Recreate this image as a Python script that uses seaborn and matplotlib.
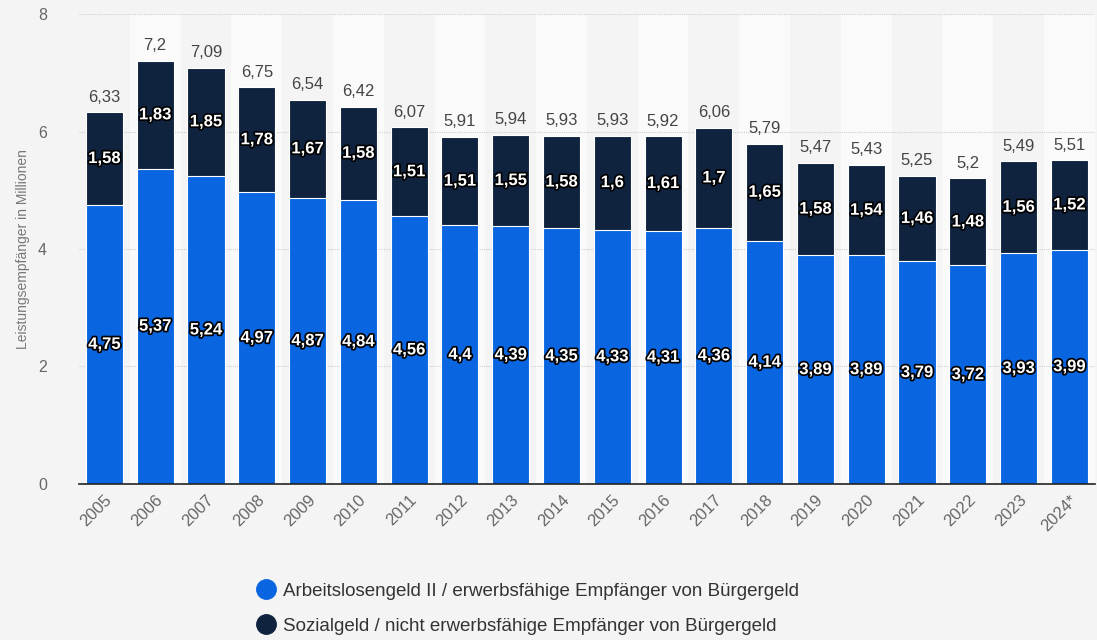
import matplotlib
matplotlib.use("Agg")
import matplotlib.pyplot as plt
import matplotlib.patheffects as pe
from matplotlib.lines import Line2D
import seaborn as sns
import pandas as pd

years = ["2005", "2006", "2007", "2008", "2009", "2010", "2011", "2012", "2013", "2014",
         "2015", "2016", "2017", "2018", "2019", "2020", "2021", "2022", "2023", "2024*"]
alg2 = [4.75, 5.37, 5.24, 4.97, 4.87, 4.84, 4.56, 4.4, 4.39, 4.35,
        4.33, 4.31, 4.36, 4.14, 3.89, 3.89, 3.79, 3.72, 3.93, 3.99]
sozial = [1.58, 1.83, 1.85, 1.78, 1.67, 1.58, 1.51, 1.51, 1.55, 1.58,
          1.6, 1.61, 1.7, 1.65, 1.58, 1.54, 1.46, 1.48, 1.56, 1.52]
totals = [6.33, 7.2, 7.09, 6.75, 6.54, 6.42, 6.07, 5.91, 5.94, 5.93,
          5.93, 5.92, 6.06, 5.79, 5.47, 5.43, 5.25, 5.2, 5.49, 5.51]
series_names = ["Arbeitslosengeld II / erwerbsfähige Empfänger von Bürgergeld",
                "Sozialgeld / nicht erwerbsfähige Empfänger von Bürgergeld"]
y_label = "Leistungsempfänger in Millionen"

BLUE = "#0a66e0"
NAVY = "#0f233f"
BG = "#f4f4f4"

def fmt(v):
    s = ("%.2f" % v).rstrip("0").rstrip(".")
    return s.replace(".", ",")

df = pd.DataFrame({"year": years, "alg2": alg2, "sozial": sozial, "total": totals})

sns.set_theme(style="white")
plt.rcParams["font.family"] = ["Liberation Sans", "DejaVu Sans"]

fig = plt.figure(figsize=(10.97, 6.40), dpi=100, facecolor=BG)
ax = fig.add_axes([0.072, 0.244, 0.926, 0.734])
ax.set_facecolor(BG)

for i in range(len(years)):
    if i % 2 == 1:
        ax.axvspan(i - 0.5, i + 0.5, color="#fafafa", zorder=0, lw=0)

sns.barplot(data=df, x="year", y="total", color=NAVY, saturation=1, width=0.73,
            edgecolor="white", linewidth=0.8, ax=ax, zorder=3)
sns.barplot(data=df, x="year", y="alg2", color=BLUE, saturation=1, width=0.73,
            edgecolor="white", linewidth=0.8, ax=ax, zorder=4)

stroke = [pe.withStroke(linewidth=2.5, foreground="black")]
for i in range(len(years)):
    ax.text(i, alg2[i] / 2, fmt(alg2[i]), ha="center", va="center", color="white",
            fontsize=12, fontweight="bold", path_effects=stroke, zorder=6)
    ax.text(i, alg2[i] + sozial[i] / 2, fmt(sozial[i]), ha="center", va="center",
            color="white", fontsize=12, fontweight="bold", path_effects=stroke, zorder=6)
    ax.text(i, totals[i] + 0.13, fmt(totals[i]), ha="center", va="bottom",
            color="#444444", fontsize=12, zorder=6)

ax.set_ylim(0, 8)
ax.set_xlim(-0.5, len(years) - 0.5)
ax.set_yticks([0, 2, 4, 6, 8])
ax.set_yticklabels(["0", "2", "4", "6", "8"])
ax.yaxis.grid(True, color="#cfcfcf", linestyle=(0, (1, 1)), linewidth=0.8)
ax.set_axisbelow(True)
for sp in ["top", "right", "left"]:
    ax.spines[sp].set_visible(False)
ax.spines["bottom"].set_color("#222222")
ax.spines["bottom"].set_linewidth(1.2)
ax.spines["bottom"].set_zorder(7)
ax.tick_params(axis="y", length=0, labelsize=11.5, labelcolor="#666666", pad=23)
ax.tick_params(axis="x", length=0, labelsize=12, labelcolor="#666666", pad=6)
plt.setp(ax.get_xticklabels(), rotation=45, ha="right", rotation_mode="anchor")
ax.set_xlabel("")
ax.set_ylabel(y_label, fontsize=10, color="#777777", labelpad=6)

handles = [Line2D([0], [0], marker="o", color="none", markerfacecolor=c, markeredgecolor=c,
                  markersize=14) for c in (BLUE, NAVY)]
fig.legend(handles, series_names, loc="center left", bbox_to_anchor=(0.225, 0.049),
           bbox_transform=fig.transFigure, frameon=False, fontsize=13.5,
           labelcolor="#333333", handletextpad=0.35, labelspacing=0.95,
           borderaxespad=0, handlelength=1.2)

fig.savefig("out.png", dpi=100, facecolor=BG)
